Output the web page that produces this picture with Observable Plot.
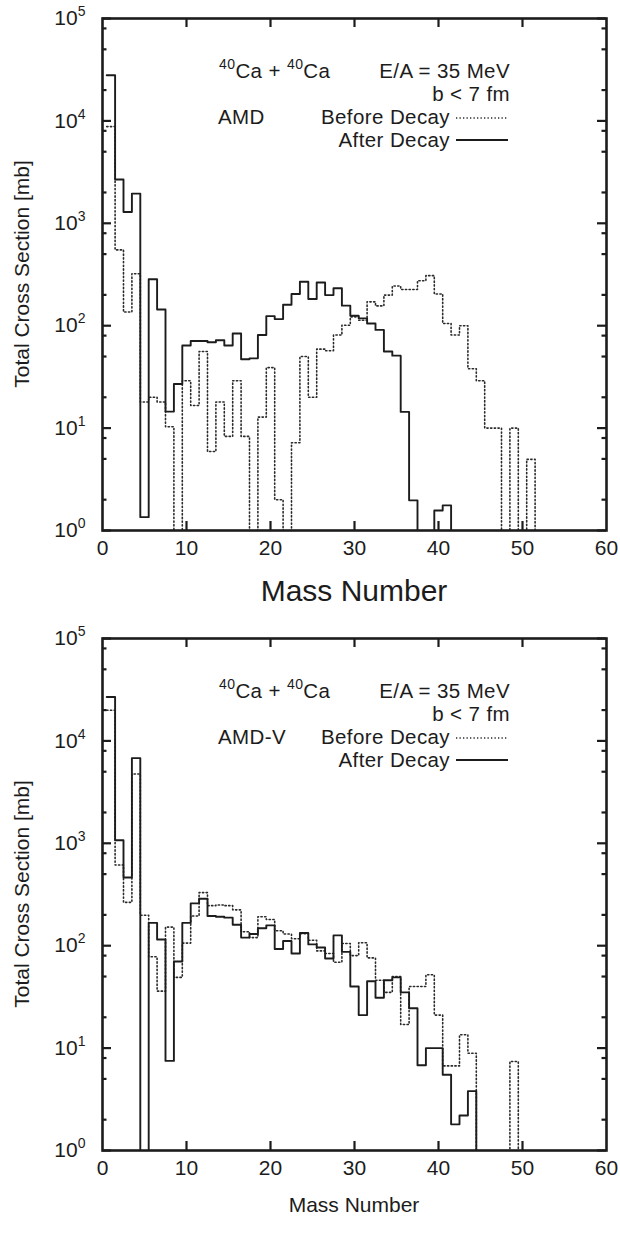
<!DOCTYPE html>
<html>
<head>
<meta charset="utf-8">
<script src="https://cdn.jsdelivr.net/npm/d3@7"></script>
<script src="https://cdn.jsdelivr.net/npm/@observablehq/plot@0.6"></script>
<style>
  body { margin: 0; background: #fff; }
  #chart svg { display: block; }
</style>
</head>
<body>
<div id="chart"></div>
<script>
// ---------- data ----------
const massNumbers = [1,2,3,4,5,6,7,8,9,10,11,12,13,14,15,16,17,18,19,20,21,22,23,24,25,26,27,28,29,30,31,32,33,34,35,36,37,38,39,40,41,42,43,44,45,46,47,48,49,50,51,52,53,54,55];

// AMD (top panel)
const amdBeforeDecay = [8800,550,136,322,18,20,18,10.3,0,29,16.6,56,5.9,18,8.3,29,8.3,0,12.8,39,2,0,7.2,50,20,59,57,81,101,122,113,171,156,199,244,226,226,275,308,204,105,81,100,38,29,10,10,0,10,0,4.95,0,0,0,0];
const amdAfterDecay  = [27900,2680,1290,1950,1.35,284,144,14.5,27,64,71,71,69,72,64,84,47,48,81,124,116,160,204,269,182,264,199,232,157,125,118,105,91,56,51,14.4,1.97,0,0,1.57,1.76,0,0,0,0,0,0,0,0,0,0,0,0,0,0];

// AMD-V (bottom panel)
const amdvBeforeDecay = [19900,614,265,4750,198,78,36,152,49,106,195,330,246,250,246,224,137,120,192,180,140,130,117,131,113,89,84,69,105,80,107,76,46,35,50,17,40,40,52,21,6.7,6.7,13.5,8.9,0,0,0,0,7.4,0,0,0,0,0,0];
const amdvAfterDecay  = [26800,1070,464,6790,0,167,115,7.5,70,167,259,287,195,192,188,160,120,130,148,158,93,111,84,133,103,96,75,126,87,40,21,45,31,46,49,35,24.5,6.8,10,10,5.5,1.8,2.2,3.8,0,0,0,0,0,0,0,0,0,0,0];

// axes
const xTickValues = [0,10,20,30,40,50,60];
const xInnerTicks = [10,20,30,40,50];
const yDecades = [1,10,100,1000,10000,100000];
const yExponents = ["0","1","2","3","4","5"];
const yMinorTicks = [2,5,8,20,50,80,200,500,800,2000,5000,8000,20000,50000,80000];

// texts
const xTitle = "Mass Number";
const yTitle = "Total Cross Section [mb]";
const reactionMass = "40";
const reactionNucleus = "Ca";
const energyLabel = "E/A = 35 MeV";
const impactLabel = "b < 7 fm";
const seriesLabels = ["Before Decay", "After Decay"];
const modelNames = ["AMD", "AMD-V"];

// ---------- drawing ----------
const FONT = "'Liberation Sans', Arial, Helvetica, sans-serif";
const INK = "#1c1c1c";
const FLOOR = 0.3; // zero bins drop below the frame (clipped)

function outline(values) {
  const pts = [];
  massNumbers.forEach((a, i) => {
    const v = values[i] > 0 ? values[i] : FLOOR;
    pts.push({x: a - 0.5, y: v}, {x: a + 0.5, y: v});
  });
  return pts;
}

function panel(cfg) {
  const W = 620, ML = 102, MR = 14, MT = 18, FB = 530;
  const H = cfg.height, MB = H - FB;
  const fw = W - ML - MR, fh = FB - MT;
  const svg = Plot.plot({
    width: W, height: H,
    marginLeft: ML, marginRight: MR, marginTop: MT, marginBottom: MB,
    style: {fontFamily: FONT, fontSize: "20px", color: INK, background: "#fff", overflow: "visible"},
    x: {domain: [0, 60]},
    y: {type: "log", domain: [1, 100000]},
    marks: [
      Plot.line(outline(cfg.before), {x: "x", y: "y", stroke: "#2a2a2a", strokeWidth: 1.6, strokeDasharray: "1.3,2.4", clip: true}),
      Plot.line(outline(cfg.after), {x: "x", y: "y", stroke: INK, strokeWidth: 1.9, clip: true}),
      Plot.tickY(yDecades, {y: d => d, insetRight: fw - 9, stroke: INK, strokeWidth: 2.2}),
      Plot.tickY(yDecades, {y: d => d, insetLeft: fw - 9, stroke: INK, strokeWidth: 2.2}),
      Plot.tickY(yMinorTicks, {y: d => d, insetRight: fw - 4.5, stroke: INK, strokeWidth: 2.2}),
      Plot.tickY(yMinorTicks, {y: d => d, insetLeft: fw - 4.5, stroke: INK, strokeWidth: 2.2}),
      Plot.tickX(xInnerTicks, {x: d => d, insetTop: fh - 9, stroke: INK, strokeWidth: 2.2}),
      Plot.tickX(xInnerTicks, {x: d => d, insetBottom: fh - 9, stroke: INK, strokeWidth: 2.2}),
      Plot.axisX({ticks: xTickValues, tickSize: 0, tickPadding: 10, label: null, tickFormat: d => String(d), fontSize: 21}),
      Plot.axisY({ticks: yDecades, tickSize: 0, tickPadding: 17, label: null,
        tickFormat: d => "10^" + yExponents[yDecades.indexOf(d)], fontSize: 21}),
      Plot.frame({stroke: INK, strokeWidth: 2.6})
    ]
  });

  const s = d3.select(svg);
  // superscript exponents on y tick labels
  s.selectAll("text").each(function() {
    const t = this.textContent;
    const m = /^10\^(\d)$/.exec(t);
    if (m) {
      const el = d3.select(this);
      el.text("");
      el.append("tspan").text("10");
      el.append("tspan").attr("dy", "-9").attr("font-size", 14).text(m[1]);
    }
  });
  // y title
  s.append("text")
    .attr("transform", `translate(22,${(MT + FB) / 2}) rotate(-90)`)
    .attr("text-anchor", "middle").attr("dy", "0.35em")
    .attr("font-family", FONT).attr("font-size", cfg.yTitleSize).attr("fill", INK)
    .text(yTitle);
  // x title
  s.append("text")
    .attr("x", ML + fw / 2).attr("y", cfg.xTitleY)
    .attr("text-anchor", "middle").attr("dy", "0.35em")
    .attr("font-family", FONT).attr("font-size", cfg.xTitleSize).attr("fill", INK)
    .text(xTitle);

  // legend block
  const g = s.append("g").attr("font-family", FONT).attr("font-size", 20.5)
    .attr("letter-spacing", "0.4px").attr("fill", INK);
  const r1 = g.append("text").attr("x", 219).attr("y", 78).attr("text-anchor", "start");
  r1.append("tspan").attr("font-size", 14).attr("dy", -9).text(reactionMass);
  r1.append("tspan").attr("dy", 9).text(reactionNucleus + " + ");
  r1.append("tspan").attr("font-size", 14).attr("dy", -9).text(reactionMass);
  r1.append("tspan").attr("dy", 9).text(reactionNucleus);
  g.append("text").attr("x", 510).attr("y", 78).attr("text-anchor", "end").text(energyLabel);
  g.append("text").attr("x", 510).attr("y", 101).attr("text-anchor", "end").text(impactLabel);
  g.append("text").attr("x", 218).attr("y", 124).attr("text-anchor", "start").text(cfg.model);
  g.append("text").attr("x", 450).attr("y", 124).attr("text-anchor", "end").text(seriesLabels[0]);
  g.append("text").attr("x", 450).attr("y", 147).attr("text-anchor", "end").text(seriesLabels[1]);
  g.append("line").attr("x1", 456).attr("x2", 508).attr("y1", 118).attr("y2", 118)
    .attr("stroke", "#2a2a2a").attr("stroke-width", 1.4).attr("stroke-dasharray", "1.3,2.2");
  g.append("line").attr("x1", 456).attr("x2", 508).attr("y1", 140).attr("y2", 140)
    .attr("stroke", INK).attr("stroke-width", 1.8);
  return svg;
}

const chart = document.getElementById("chart");
chart.appendChild(panel({height: 620, before: amdBeforeDecay, after: amdAfterDecay, model: modelNames[0],
  xTitleY: 590, xTitleSize: 30, yTitleSize: 21}));
chart.appendChild(panel({height: 614, before: amdvBeforeDecay, after: amdvAfterDecay, model: modelNames[1],
  xTitleY: 585, xTitleSize: 21, yTitleSize: 21}));
</script>
</body>
</html>
